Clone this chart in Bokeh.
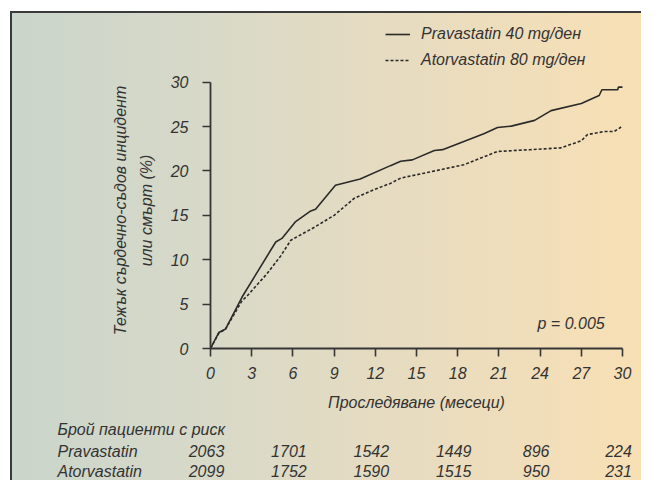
import math
from bokeh.plotting import figure
from bokeh.models import (Range1d, FixedTicker, Label, LabelSet, ColumnDataSource,
                          Legend, LegendItem)
from bokeh.core.properties import value
from bokeh.embed import file_html
from bokeh.resources import INLINE

# ---------------- data ----------------
months_prav = [0, 0.6, 1.1, 2.3, 4.75, 5.2, 6.2, 7.3, 7.65, 9.1, 10.9, 13.1, 13.85, 14.7,
               16.3, 16.9, 19.9, 20.9, 21.9, 23.6, 24.8, 27.0, 28.3, 28.5, 29.65, 29.7, 30.0]
prav = [0, 1.8, 2.2, 5.8, 12.0, 12.4, 14.3, 15.5, 15.7, 18.4, 19.1, 20.6, 21.1, 21.25,
        22.3, 22.4, 24.2, 24.9, 25.05, 25.7, 26.8, 27.6, 28.5, 29.15, 29.15, 29.45, 29.45]

months_ator = [0, 0.6, 1.1, 2.3, 2.6, 4.1, 5.1, 5.85, 7.5, 9.0, 10.45, 11.9, 13.1, 13.85,
               15.55, 18.45, 20.9, 23.3, 25.5, 27.0, 27.45, 28.7, 29.4, 29.9]
ator = [0, 1.7, 2.2, 5.4, 5.8, 8.4, 10.4, 12.2, 13.6, 15.0, 16.9, 17.9, 18.6, 19.2,
        19.75, 20.7, 22.2, 22.4, 22.6, 23.4, 24.1, 24.45, 24.45, 24.95]

x_ticks = [0, 3, 6, 9, 12, 15, 18, 21, 24, 27, 30]
y_ticks = [0, 5, 10, 15, 20, 25, 30]

risk_months = [0, 6, 12, 18, 24, 30]
risk_prav = ["2063", "1701", "1542", "1449", "896", "224"]
risk_ator = ["2099", "1752", "1590", "1515", "950", "231"]

legend_prav = "Pravastatin 40 mg/ден"
legend_ator = "Atorvastatin 80 mg/ден"
y_label_1 = "Тежък сърдечно-съдов инцидент"
y_label_2 = "или смърт (%)"
x_label = "Проследяване (месеци)"
risk_title = "Брой пациенти с риск"
row_prav = "Pravastatin"
row_ator = "Atorvastatin"
p_text = "p = 0.005"

# ---------------- layout (pixels) ----------------
FONT = "Liberation Sans"
TXT = "#333333"
LINE = "#2a2a2a"
AXC = "#363636"
FS = "16px"

W, H = 641, 480
X0_PX, X30_PX = 210.0, 622.0     # where months 0 and 30 sit
Y0_PX, Y30_PX = 348.0, 81.7      # where 0 % and 30 % sit
sx = (X30_PX - X0_PX) / 30.0
sy = (Y0_PX - Y30_PX) / 30.0

def dx(px):
    return (px - X0_PX) / sx

def dy(py):
    return (Y0_PX - py) / sy

p = figure(width=W, height=H, output_backend="svg", toolbar_location=None,
           x_range=Range1d(dx(0), dx(W)), y_range=Range1d(dy(H), dy(0)),
           min_border=0, min_border_left=0, min_border_right=0,
           min_border_top=0, min_border_bottom=0)

p.background_fill_color = None
p.border_fill_color = None
p.outline_line_color = None
p.grid.visible = False
p.styles = {
    "background-image": ("linear-gradient(#3a3a3a,#3a3a3a), linear-gradient(#3a3a3a,#3a3a3a), "
                         "linear-gradient(to right, #cad5cb 0%, #d8d9c8 30%, #e9dcbf 65%, #f9e0b4 100%)"),
    "background-size": "100% 2px, 2px 100%, 100% 100%",
    "background-position": "10px 11px, 10px 11px, 12px 13px",
    "background-repeat": "no-repeat",
}

# axes crossing at the origin
for ax in (p.xaxis[0], p.yaxis[0]):
    ax.fixed_location = 0
    ax.bounds = (0, 30)
    ax.axis_line_color = AXC
    ax.axis_line_width = 1.8
    ax.major_tick_line_color = AXC
    ax.major_tick_line_width = 1.6
    ax.major_tick_out = 8
    ax.major_tick_in = 0
    ax.minor_tick_line_color = None
    ax.major_label_text_font = FONT
    ax.major_label_text_font_style = "italic"
    ax.major_label_text_font_size = FS
    ax.major_label_text_color = TXT

p.xaxis.ticker = FixedTicker(ticks=x_ticks)
p.yaxis.ticker = FixedTicker(ticks=y_ticks)
p.xaxis.major_label_standoff = 10
p.yaxis.major_label_standoff = 14
p.xaxis.axis_label = x_label
p.xaxis.axis_label_text_font = FONT
p.xaxis.axis_label_text_font_style = "italic"
p.xaxis.axis_label_text_font_size = FS
p.xaxis.axis_label_text_color = TXT
p.xaxis.axis_label_standoff = 12

# curves
r1 = p.line(months_prav, prav, line_color=LINE, line_width=1.6)
r2 = p.line(months_ator, ator, line_color=LINE, line_width=1.6, line_dash="3 2")

legend = Legend(items=[LegendItem(label=legend_prav, renderers=[r1]),
                       LegendItem(label=legend_ator, renderers=[r2])],
                location=(385, H - 70), orientation="vertical",
                background_fill_alpha=0, border_line_alpha=0,
                padding=0, margin=0, spacing=6, glyph_width=25, glyph_height=20,
                label_height=20, label_standoff=11,
                label_text_font=FONT, label_text_font_style="italic",
                label_text_font_size=FS, label_text_color=TXT)
p.add_layout(legend, "center")

txt_kw = dict(text_font=FONT, text_font_style="italic", text_font_size=FS, text_color=TXT)
set_kw = dict(text_font=value(FONT), text_font_style="italic", text_font_size=value(FS),
              text_color=TXT)

# y-axis label (two lines, rotated)
p.add_layout(Label(x=dx(120), y=dy(210), text=y_label_1, angle=math.pi / 2,
                   text_align="center", text_baseline="middle", **txt_kw))
p.add_layout(Label(x=dx(146), y=dy(210), text=y_label_2, angle=math.pi / 2,
                   text_align="center", text_baseline="middle", **txt_kw))

# p value
p.add_layout(Label(x=dx(537), y=dy(323), text=p_text, text_align="left",
                   text_baseline="middle", **txt_kw))

# risk table (vertical centres of the rows)
ROW0, ROW1, ROW2 = 429.0, 450.5, 470.5
p.add_layout(Label(x=dx(57), y=dy(ROW0), text=risk_title, text_align="left",
                   text_baseline="middle", **txt_kw))
p.add_layout(Label(x=dx(57), y=dy(ROW1), text=row_prav, text_align="left",
                   text_baseline="middle", **txt_kw))
p.add_layout(Label(x=dx(57), y=dy(ROW2), text=row_ator, text_align="left",
                   text_baseline="middle", **txt_kw))

src = ColumnDataSource(dict(m=risk_months, pv=risk_prav, av=risk_ator,
                            yp=[dy(ROW1)] * len(risk_months),
                            ya=[dy(ROW2)] * len(risk_months)))
p.add_layout(LabelSet(x="m", y="yp", text="pv", source=src, x_offset=-4,
                      text_align="center", text_baseline="middle", **set_kw))
p.add_layout(LabelSet(x="m", y="ya", text="av", source=src, x_offset=-4,
                      text_align="center", text_baseline="middle", **set_kw))

open("out.html", "w").write(file_html(p, INLINE))
